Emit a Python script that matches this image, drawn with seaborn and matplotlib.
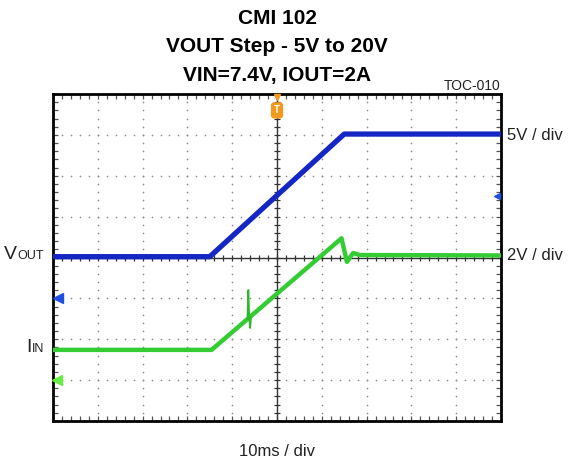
import numpy as np
import pandas as pd
import matplotlib
matplotlib.use("Agg")
import matplotlib.pyplot as plt
import seaborn as sns

# scope trace breakpoints (time in ms, 10 ms/div, trigger at 0)
t_vout = [-50.0, -15.0, 15.0, 50.0]
vout = [5.1, 5.1, 20.1, 20.1]          # V, 5 V/div, ground marker at -1 div

t_iin = [-50.0, -14.6, 14.4, 15.6, 17.0, 18.5, 50.0]
iin = [1.48, 1.48, 6.94, 5.79, 6.22, 6.12, 6.10]  # A, 2/div, ground at -3 div

# short transient spike on the input current ramp
t_spike = [-6.6, -6.4, -6.2, -6.0, -5.8]
iin_spike = [2.98, 4.41, 3.05, 2.55, 3.08]

VOUT_DIV, VOUT_GND = 5.0, -1.0
IIN_DIV, IIN_GND = 2.0, -3.0

df_v = pd.DataFrame({"t": t_vout, "div": np.array(vout) / VOUT_DIV + VOUT_GND})
df_i = pd.DataFrame({"t": t_iin, "div": np.array(iin) / IIN_DIV + IIN_GND})
df_s = pd.DataFrame({"t": t_spike, "div": np.array(iin_spike) / IIN_DIV + IIN_GND})

sns.set_theme(style="white")
plt.rcParams["font.family"] = ["Liberation Sans", "DejaVu Sans"]

W, H = 568, 466
fig = plt.figure(figsize=(W / 100, H / 100), dpi=100)
ax = fig.add_axes([53 / W, 1 - 421 / H, 448 / W, 327 / H])
ax.set_xlim(-50, 50)
ax.set_ylim(-4, 4)

# dotted graticule
grid_col = "#8c8c8c"
for gx in range(-40, 50, 10):
    if gx == 0:
        continue
    ys = np.arange(-4, 4.01, 0.2)
    ax.scatter(np.full_like(ys, gx), ys, s=1.5, color=grid_col, linewidths=0, zorder=1)
for gy in range(-3, 4):
    if gy == 0:
        continue
    xs = np.arange(-50, 50.01, 2)
    ax.scatter(xs, np.full_like(xs, gy), s=1.5, color=grid_col, linewidths=0, zorder=1)

# centre cross with minor ticks
ax.axhline(0, color="#333333", lw=1.0, zorder=2)
ax.axvline(0, color="#333333", lw=1.0, zorder=2)
xs = np.arange(-50, 50.01, 2)
ys = np.arange(-4, 4.01, 0.2)
ax.scatter(xs, np.zeros_like(xs), marker="|", s=22, color="#333333", linewidths=0.9, zorder=2)
ax.scatter(np.zeros_like(ys), ys, marker="_", s=22, color="#333333", linewidths=0.9, zorder=2)

# traces
sns.lineplot(data=df_i, x="t", y="div", ax=ax, color="#33cc33", linewidth=3.2, zorder=4)
sns.lineplot(data=df_s, x="t", y="div", ax=ax, color="#2bb82b", linewidth=1.3, zorder=4)
sns.lineplot(data=df_v, x="t", y="div", ax=ax, color="#1426c4", linewidth=3.8, zorder=5)

# frame
for sp in ax.spines.values():
    sp.set_visible(True)
    sp.set_color("black")
    sp.set_linewidth(2.0)
ax.set_xticks(np.arange(-50, 50.01, 2))
ax.set_yticks(np.arange(-4, 4.01, 0.2))
ax.tick_params(direction="in", length=3.5, width=0.9, color="#555555",
               top=True, right=True, bottom=True, left=True,
               labelbottom=False, labelleft=False)
ax.set_xlabel("")
ax.set_ylabel("")

# ground markers
ax.plot([-48.9], [VOUT_GND], marker="<", markersize=7, color="#1f4fe0", clip_on=False, zorder=6)
ax.plot([-49.0], [IIN_GND], marker="<", markersize=7, color="#66ee44", clip_on=False, zorder=6)
ax.plot([49.2], [1.5], marker="<", markersize=4, color="#1f4fe0", clip_on=False, zorder=6)

# trigger marker
ax.plot([0], [3.93], marker="v", markersize=5, color="#f39a1e", clip_on=False, zorder=7)
ax.text(0, 3.6, "T", ha="center", va="center", fontsize=7, color="white", fontweight="bold",
        bbox=dict(boxstyle="round,pad=0.25", fc="#f39a1e", ec="#f39a1e"), zorder=7)

# titles
for txt, y in [("CMI 102", 18), ("VOUT Step - 5V to 20V", 47), ("VIN=7.4V, IOUT=2A", 75)]:
    fig.text(277 / W, 1 - y / H, txt, ha="center", va="center", fontsize=15,
             fontweight="bold", color="black")

fig.text(501 / W, 1 - 90 / H, "TOC-010", ha="right", va="baseline", fontsize=10, color="#222222")
fig.text(507 / W, 1 - 136 / H, "5V / div", ha="left", va="center", fontsize=12, color="#222222")
fig.text(507 / W, 1 - 256 / H, "2V / div", ha="left", va="center", fontsize=12, color="#222222")
fig.text(277 / W, 1 - 452 / H, "10ms / div", ha="center", va="center", fontsize=12, color="#222222")

# channel names: big first letter + smaller caps, right edge at x=44
renderer = fig.canvas.get_renderer()
for big, small, y in [("V", "OUT", 259), ("I", "IN", 352)]:
    t_small = fig.text(44 / W, 1 - y / H, small, ha="right", va="baseline", fontsize=9, color="#222222")
    left = t_small.get_window_extent(renderer).x0
    fig.text((left - 0.5) / W, 1 - y / H, big, ha="right", va="baseline", fontsize=14, color="#222222")

fig.savefig("out.png", dpi=100)
